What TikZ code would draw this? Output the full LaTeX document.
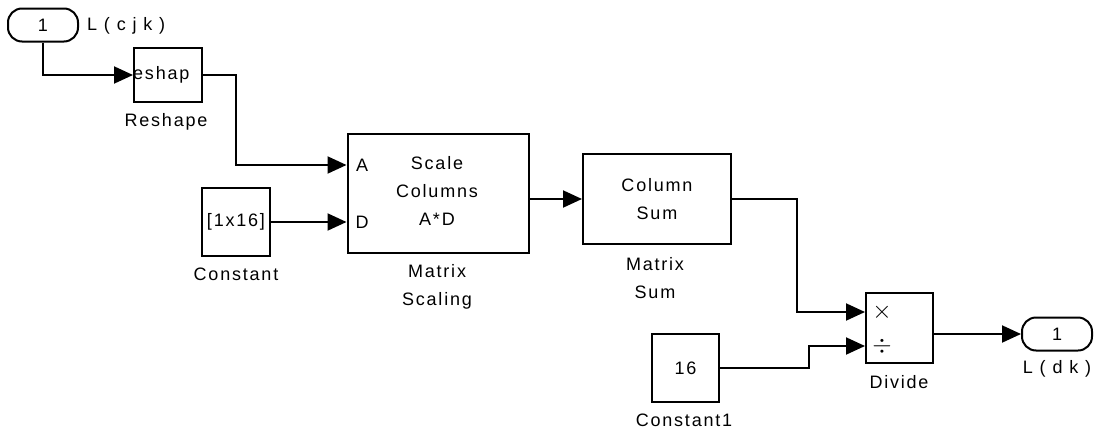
\documentclass[tikz,border=0pt]{standalone}
\usepackage{fontspec}
\setmainfont{Liberation Sans}[LetterSpace=10]
\usetikzlibrary{arrows.meta}
\begin{document}
\begin{tikzpicture}[x=1pt,y=-1pt,
  every node/.style={font=\fontsize{18}{20}\selectfont, inner sep=0pt},
  blk/.style={draw, line width=2pt, rectangle},
  port/.style={draw, line width=2pt, rounded corners=14pt, minimum width=70pt, minimum height=33pt},
  wire/.style={line width=2pt},
  sig/.style={wire, -{Triangle[length=19pt,width=17pt]}},
  lbl/.style={align=center, font=\fontsize{18}{28}\selectfont},
  op/.style={font=\fontsize{24}{24}\selectfont}
]
\useasboundingbox (0,0) rectangle (1102,434);
% blocks
\node[port] (in1) at (43,25) {1};
\node[anchor=west] (inlab) at (87,26) {L ( c j k )};
\node[blk, minimum width=68pt, minimum height=54pt] (rs) at (168,75) {};
\node[anchor=west] (rstext) at (rs.west) {eshap};
\node (rslab) at (166,122) {Reshape};
\node[blk, minimum width=68pt, minimum height=68pt] (c0) at (236,222) {[1x16]};
\node (c0lab) at (236,274) {Constant};
\node[blk, minimum width=181pt, minimum height=119pt] (ms) at (438,193.5) {};
\node (msA) at (362,165) {A};
\node (msD) at (362,222) {D};
\node[lbl] (mstext) at (437,191) {Scale\\Columns\\A*D};
\node[lbl] (mslab) at (437,287) {Matrix\\Scaling};
\node[blk, minimum width=148pt, minimum height=90pt] (cs) at (657,199) {};
\node[lbl] (cstext) at (657,199) {Column\\Sum};
\node[lbl] (cslab) at (655,278) {Matrix\\Sum};
\node[blk, minimum width=67pt, minimum height=70pt] (dv) at (899.5,328) {};
\node[op] (dvx) at (882,312) {$\times$};
\node[op] (dvd) at (882,346) {$\div$};
\node (dvlab) at (899,382) {Divide};
\node[blk, minimum width=67pt, minimum height=68pt] (c1) at (685.5,368) {16};
\node (c1lab) at (684,420) {Constant1};
\node[port] (out1) at (1057,334) {1};
\node (outlab) at (1057,369) {L ( d k )};
% ports & bends
\coordinate (pA) at (ms.west |- msA);
\coordinate (pD) at (ms.west |- msD);
\coordinate (pX) at (dv.west |- dvx);
\coordinate (pY) at (dv.west |- dvd);
% wires
\draw[sig] (in1.south) |- (rs.west);
\draw[sig] (rs.east) -- (236,75) |- (pA);
\draw[sig] (c0.east) -- (pD);
\draw[sig] (ms.east |- cs.west) -- (cs.west);
\draw[sig] (cs.east) -- (797,199) |- (pX);
\draw[sig] (c1.east) -- (809,368) |- (pY);
\draw[sig] (dv.east |- out1.west) -- (out1.west);
\end{tikzpicture}
\end{document}
